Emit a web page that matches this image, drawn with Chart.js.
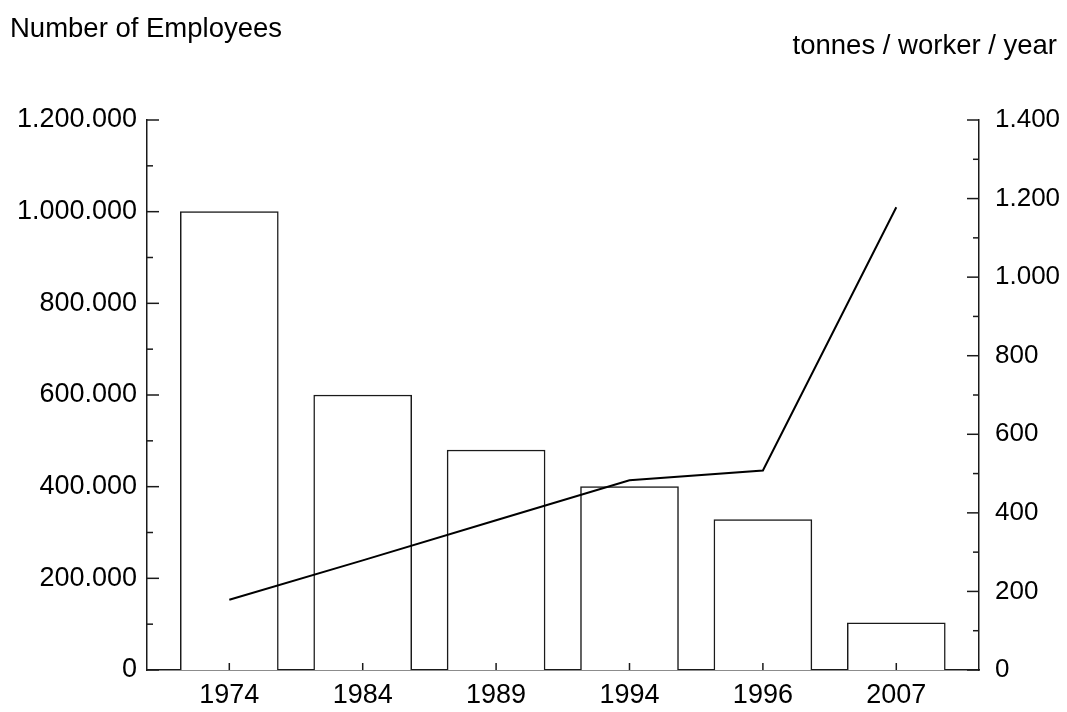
<!DOCTYPE html>
<html>
<head>
<meta charset="utf-8">
<script src="https://cdn.jsdelivr.net/npm/chart.js@4.4.1/dist/chart.umd.min.js"></script>
<style>
  html, body { margin: 0; padding: 0; background: #fff; }
  #wrap { width: 1067px; height: 712px; position: relative; }
</style>
</head>
<body>
<div id="wrap"><canvas id="chart"></canvas></div>
<script>
// --- Data ---
const years = ['1974', '1984', '1989', '1994', '1996', '2007'];
const employees = [1000000, 600000, 480000, 400000, 328000, 103000];
const productivity = [179, 279, 381, 483, 508, 1178];

const leftTitle = 'Number of Employees';
const rightTitle = 'tonnes / worker / year';

const FONT = "'Liberation Sans', Arial, sans-serif";
const INK = '#1a1a1a';

// thousands separator with dots, like 1.200.000
function dotted(v) {
    return String(Math.round(v)).replace(/\B(?=(\d{3})+(?!\d))/g, '.');
}

// --- Inside tick marks (major + minor) drawn from the scales ---
const insideTicks = {
    id: 'insideTicks',
    afterDraw(chart) {
        const ctx = chart.ctx;
        const area = chart.chartArea;
        ctx.save();
        ctx.strokeStyle = INK;
        ctx.lineWidth = 1.5;

        const yTicks = (scale, x0, dir) => {
            const px = scale.ticks.map(t => scale.getPixelForValue(t.value));
            px.forEach((p, i) => {
                ctx.beginPath();
                ctx.moveTo(x0, p);
                ctx.lineTo(x0 + dir * 12, p);
                ctx.stroke();
                if (i < px.length - 1) {
                    const m = (p + px[i + 1]) / 2;
                    ctx.beginPath();
                    ctx.moveTo(x0, m);
                    ctx.lineTo(x0 + dir * 6, m);
                    ctx.stroke();
                }
            });
        };
        yTicks(chart.scales.y, area.left, 1);
        yTicks(chart.scales.y1, area.right, -1);

        const xs = chart.scales.x;
        xs.ticks.forEach(t => {
            const p = xs.getPixelForValue(t.value);
            ctx.beginPath();
            ctx.moveTo(p, area.bottom);
            ctx.lineTo(p, area.bottom - 7);
            ctx.stroke();
        });
        ctx.restore();
    }
};

// --- Header texts above each axis ---
const headers = {
    id: 'headers',
    afterDraw(chart) {
        const ctx = chart.ctx;
        ctx.save();
        ctx.fillStyle = '#000';
        ctx.font = '27.5px ' + FONT;
        ctx.textBaseline = 'middle';
        ctx.textAlign = 'left';
        ctx.fillText(leftTitle, 10, 29);
        ctx.textAlign = 'right';
        ctx.fillText(rightTitle, 1057, 46);
        ctx.restore();
    }
};

Chart.defaults.font.family = FONT;
Chart.defaults.color = '#000';

new Chart(document.getElementById('chart'), {
    type: 'bar',
    data: {
        datasets: [
            {
                type: 'line',
                data: productivity.map((v, i) => ({ x: i, y: v })),
                yAxisID: 'y1',
                borderColor: '#000',
                borderWidth: 2,
                pointRadius: 0,
                tension: 0,
                order: 0
            },
            {
                type: 'bar',
                data: employees.map((v, i) => ({ x: i, y: v })),
                yAxisID: 'y',
                backgroundColor: '#fff',
                borderColor: INK,
                borderWidth: 1.5,
                barThickness: 98,
                order: 1
            }
        ]
    },
    options: {
        responsive: true,
        maintainAspectRatio: false,
        animation: false,
        layout: { padding: { top: 120, left: 0, right: 0, bottom: 0 } },
        plugins: {
            legend: { display: false },
            tooltip: { enabled: false }
        },
        scales: {
            x: {
                type: 'linear',
                offset: false,
                min: -0.617,
                max: 5.62,
                afterBuildTicks: s => { s.ticks = years.map((_, i) => ({ value: i })); },
                afterFit: s => { s.height = 42; },
                grid: { display: false, drawTicks: false, offset: false },
                border: { display: true, color: INK, width: 1.5 },
                ticks: {
                    autoSkip: false,
                    maxRotation: 0,
                    padding: 9,
                    font: { size: 27 },
                    callback: v => years[v]
                }
            },
            y: {
                position: 'left',
                min: 0,
                max: 1200000,
                afterFit: s => { s.width = 147; },
                grid: { display: false, drawTicks: false },
                border: { display: true, color: INK, width: 1.5 },
                ticks: {
                    stepSize: 200000,
                    padding: 10,
                    font: { size: 27 },
                    callback: v => dotted(v)
                }
            },
            y1: {
                position: 'right',
                min: 0,
                max: 1400,
                afterFit: s => { s.width = 88; },
                grid: { display: false, drawTicks: false },
                border: { display: true, color: INK, width: 1.5 },
                ticks: {
                    stepSize: 200,
                    padding: 16,
                    font: { size: 26 },
                    callback: v => dotted(v)
                }
            }
        }
    },
    plugins: [insideTicks, headers]
});
</script>
</body>
</html>
